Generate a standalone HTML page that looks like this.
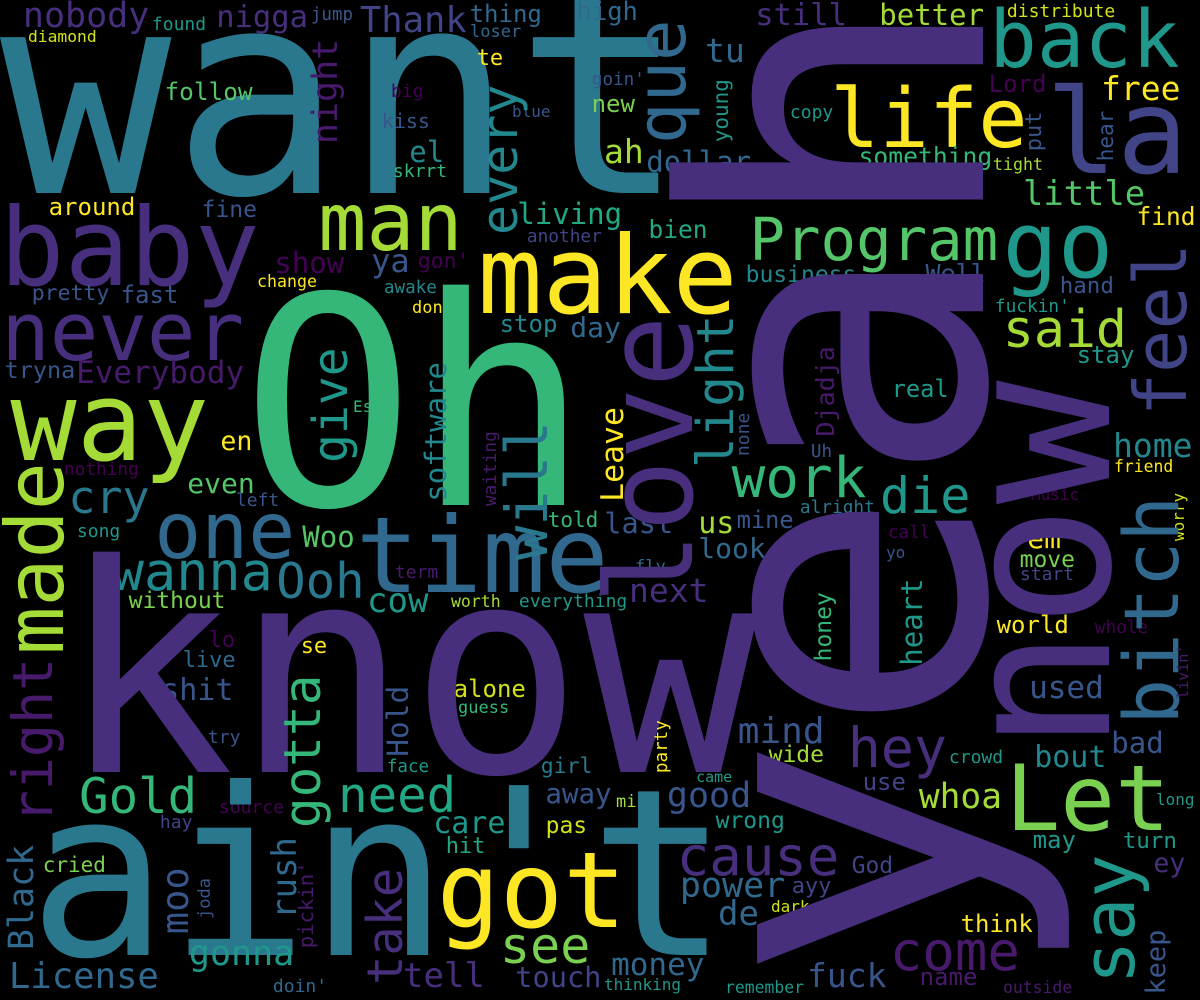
<!DOCTYPE html>
<html>
<head>
<meta charset="utf-8">
<style>
html,body{margin:0;padding:0;background:#000;}
svg{display:block;}
text{font-family:"DejaVu Sans Mono","Liberation Mono",monospace;}
</style>
</head>
<body>
<svg id="cloud" width="1200" height="1000" viewBox="0 0 1200 1000" xmlns="http://www.w3.org/2000/svg">
<rect x="0" y="0" width="1200" height="1000" fill="#000"/>
</svg>
<script>
var P0="#440154",P1="#481a6c",P2="#472f7d",P3="#414487",P4="#39568c",P5="#31688e",P6="#2a788e",P7="#23888e",P8="#1f988b",P9="#22a884",P10="#35b779",P11="#54c568",P12="#7ad151",P13="#a5db36",P14="#d2e21b",P15="#fde725";
var horizontalWords=[
["want",17,193,285,P6],["nobody",25,27,35,P2],["found",153,30,18,P8],["diamond",29,42,16.3,P14],
["nigga",218,27,30.5,P2],["jump",312,20,17.5,P4],["Thank",362,32,35.5,P3],["thing",471,22,24,P5],
["loser",471,37,17,P5],["high",578,20,25.5,P5],["te",478,65,22,P15],["follow",166,100,24.4,P11],
["big",392,97,18,P0],["kiss",383,128,20,P4],["blue",513,117,16,P4],["el",411,162,29,P7],
["skrrt",394,177,18,P10],["around",50,215,24,P15],["fine",203,217,23,P4],["baby",6,285,108,P2],
["man",323,250,80,P13],["living",519,224,29,P9],["another",528,242,17.8,P3],["show",276,273,29,P0],
["ya",373,272,32,P4],["gon'",419,268,21.5,P0],["make",484,313,108,P15],["change",258,287,16.6,P15],
["pretty",33,300,21.5,P4],["fast",122,303,24,P4],["awake",385,293,17.6,P7],["don",413,313,17,P15],
["never",6,360,80.7,P2],["stop",501,332,24,P7],["day",572,337,28,P5],["tryna",6,378,23.5,P4],
["Everybody",78,383,31,P1],["Es",354,412,16,P10],["way",17,460,110,P13],["en",222,450,26.6,P15],
["nothing",65,475,17.8,P0],["even",189,493,28,P11],["left",237,506,18,P4],["Oh",258,505,290,P10],
["cry",71,513,45,P6],["one",159,558,78,P5],["song",78,537,18,P8],["Woo",304,547,29,P11],
["time",362,592,105,P5],["wanna",115,590,53.5,P7],["Ooh",279,598,49,P6],["term",396,578,18,P1],
["told",549,527,21,P10],["without",130,608,23,P12],["cow",369,612,34,P8],["worth",452,607,16.5,P13],
["everything",520,607,18,P8],["lo",210,647,22,P0],["se",302,653,22,P15],["live",184,667,22,P5],
["shit",163,700,30,P4],["alone",455,697,24,P14],["guess",459,713,17,P10],["try",209,743,18,P4],
["face",388,772,17.5,P8],["girl",542,773,21.5,P6],["Gold",82,813,49,P10],["source",220,813,18,P0],
["need",341,812,49,P9],["hay",161,828,18,P3],["care",435,833,30,P8],["pas",547,833,23,P14],
["away",547,803,27.5,P4],["mi",617,807,17,P13],["came",697,782,15,P8],["good",669,807,35,P4],
["hit",447,853,22,P9],["cried",44,872,21,P12],["know",77,772,290,P2],["ain't",42,955,233,P6],
["got",443,927,105,P15],["see",503,963,50,P12],["tell",405,987,34,P2],["touch",517,987,28.6,P3],
["money",613,975,31,P5],["thinking",605,990,16,P8],["License",11,988,35.6,P5],["gonna",191,965,35,P8],
["doin'",274,992,18,P5],
["still",757,25,30.5,P2],["better",881,25,29,P13],["distribute",1008,17,18,P14],["back",994,67,79,P8],
["tu",707,62,33,P5],["la",1053,173,118,P3],["goin'",593,85,17.6,P4],["life",835,147,82,P15],
["Lord",990,92,24,P0],["free",1103,100,33,P15],["new",593,112,24,P12],["copy",791,118,18,P8],
["ah",606,163,33,P13],["dollar",648,172,29,P5],["something",860,165,24.7,P10],["tight",994,170,16.6,P13],
["little",1025,205,33.8,P11],["find",1138,225,24.5,P15],["Program",753,260,59,P11],["go",1008,277,92,P8],
["bien",650,238,24.5,P9],["business",747,282,23,P7],["Well",927,282,25,P4],["hand",1061,293,22.5,P4],
["fuckin'",996,312,17.8,P8],["said",1006,347,51.5,P13],["stay",1078,363,24,P8],["real",893,397,23.7,P8],
["home",1115,457,33,P7],["friend",1115,472,16.4,P15],["Uh",812,457,17.6,P4],["work",735,497,56,P10],
["die",883,513,50,P8],["Music",1032,500,16,P0],
["alright",801,513,17.8,P6],["last",606,533,28.6,P4],["us",700,533,30,P13],["mine",738,528,23.7,P4],
["look",700,558,28,P5],["fly",636,572,17,P5],["call",889,538,17.5,P0],["yo",887,558,16,P4],
["em",1029,548,28,P15],["move",1021,567,23,P12],["start",1021,580,18,P3],["next",631,602,33,P2],
["world",998,633,24,P15],["whole",1096,633,17.6,P0],["used",1031,698,31,P4],["mind",740,743,36,P4],
["hey",851,767,55,P2],["wide",770,762,23,P13],["crowd",950,763,18,P8],["bout",1036,767,30,P7],
["bad",1113,753,29,P4],["use",864,790,24,P3],["Let",1011,830,91,P12],["long",1157,805,16,P8],
["wrong",717,828,23,P8],["whoa",921,808,34.5,P13],["may",1034,848,24,P8],["turn",1124,848,22.5,P8],
["cause",680,875,54,P2],["God",853,873,23,P3],["ey",1155,872,26.6,P2],["power",682,897,35,P5],
["ayy",793,893,22,P3],["de",720,925,34,P5],["dark",772,912,16,P14],["think",962,932,24,P15],
["come",893,970,54,P1],["fuck",809,987,33,P4],["name",921,985,24,P1],["remember",726,993,16.4,P8],
["outside",1004,993,16.4,P1]
];
var verticalWords=[
["yeah",983,960,413,P2],["now",1109,740,206,P2],["night",337,142,35,P1],["every",517,232,50,P7],
["give",347,460,48,P8],["software",446,500,29,P7],["waiting",496,505,17.8,P1],["will",547,557,58,P6],
["que",685,140,69,P5],["young",728,141,21,P8],["put",1041,150,22,P4],["hear",1113,160,21,P4],
["feel",1186,412,72,P3],["Djadja",834,435,25,P1],["none",749,455,18,P4],["light",733,465,51,P7],
["love",692,597,120,P2],["Leave",623,500,31.5,P15],["worry",1184,540,16,P14],["bitch",1178,720,76,P5],
["honey",831,660,23,P10],["heart",922,664,29,P8],["livin'",1188,698,15,P1],["party",667,772,17.6,P15],
["say",1134,980,72,P8],["keep",1165,993,27,P4],["made",63,650,80,P13],["right",52,820,55,P1],
["gotta",320,825,51,P10],["Hold",408,755,29.5,P4],["rush",296,917,34,P5],["pickin'",313,947,20.6,P1],
["Black",33,948,35,P5],["moo",188,932,37,P4],["joda",210,918,17,P4],["take",402,982,48.6,P2]
];
var svg=document.getElementById('cloud');
var NS="http://www.w3.org/2000/svg";
function slug(w){return w.toLowerCase().replace(/[^a-z0-9]+/g,'-').replace(/-+$/,'');}
horizontalWords.forEach(function(r){
  var t=document.createElementNS(NS,'text');
  t.setAttribute('x',(r[1]-0.06*r[3]).toFixed(1));
  t.setAttribute('y',r[2]);
  t.setAttribute('font-size',r[3]);
  t.setAttribute('fill',r[4]);
  t.textContent=r[0];
  
  
  svg.appendChild(t);
});
verticalWords.forEach(function(r){
  var t=document.createElementNS(NS,'text');
  var by=r[2]+0.06*r[3];
  t.setAttribute('x',0);
  t.setAttribute('y',0);
  t.setAttribute('transform','translate('+r[1]+','+by.toFixed(1)+') rotate(-90)');
  t.setAttribute('font-size',r[3]);
  t.setAttribute('fill',r[4]);
  t.textContent=r[0];
  
  
  svg.appendChild(t);
});
</script>
</body>
</html>
